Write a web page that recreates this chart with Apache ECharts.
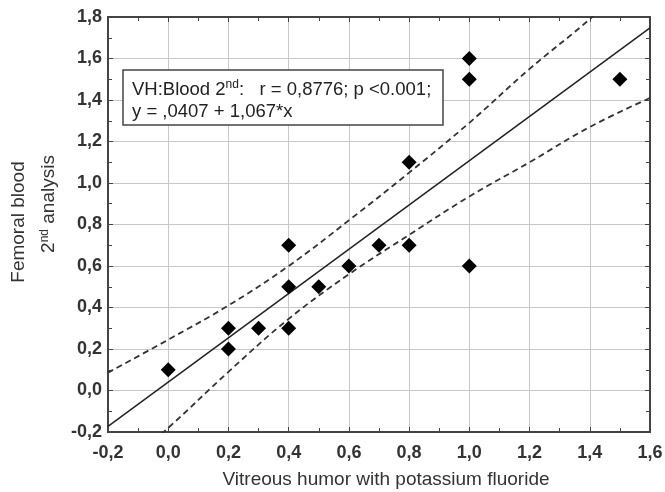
<!DOCTYPE html>
<html><head><meta charset="utf-8">
<script src="https://cdn.jsdelivr.net/npm/echarts@6/dist/echarts.min.js"></script>
<style>html,body{margin:0;padding:0;background:#fff}#c{width:665px;height:492px}</style>
</head><body><div id="c"></div>
<script>
// scatter data
var xVals = [0.0, 0.2, 0.2, 0.3, 0.4, 0.4, 0.4, 0.5, 0.6, 0.7, 0.8, 0.8, 1.0, 1.0, 1.0, 1.5];
var yVals = [0.1, 0.3, 0.2, 0.3, 0.3, 0.5, 0.7, 0.5, 0.6, 0.7, 0.7, 1.1, 0.6, 1.5, 1.6, 1.5];
// regression line end points (y = ,0407 + 1,067*x)
var fitX = [-0.2, 1.6];
var fitY = [-0.173, 1.748];
// confidence band
var bandX = [-0.2, 0.0, 0.2, 0.4, 0.6, 0.8, 1.0, 1.2, 1.4, 1.6];
var upperY = [0.086, 0.245, 0.41, 0.60, 0.82, 1.05, 1.29, 1.55, 1.79, 2.06];
var lowerY = [-0.43, -0.18, 0.09, 0.345, 0.56, 0.75, 0.935, 1.10, 1.27, 1.41];
var xTicks = ['-0,2','0,0','0,2','0,4','0,6','0,8','1,0','1,2','1,4','1,6'];
var yTicks = ['-0,2','0,0','0,2','0,4','0,6','0,8','1,0','1,2','1,4','1,6','1,8'];

function zip(a, b) { return a.map(function (v, i) { return [v, b[i]]; }); }

var FONT = 'Liberation Sans, Arial, sans-serif';
var chart = echarts.init(document.getElementById('c'));
var tickCommon = { show: true, inside: true, length: 5, lineStyle: { color: '#444', width: 1 } };
var minorCommon = { show: true, splitNumber: 2, length: 4, lineStyle: { color: '#444', width: 1 } };
var lineCommon = { show: true, onZero: false, lineStyle: { color: '#444', width: 2 } };
chart.setOption({
  animation: false,
  backgroundColor: '#fff',
  grid: { left: 108, top: 17, right: 15, bottom: 60, outerBoundsMode: 'none', containLabel: false,
    show: true, borderColor: '#444', borderWidth: 2 },
  xAxis: [{
    type: 'value', min: -0.2, max: 1.6, interval: 0.2,
    axisLine: lineCommon,
    axisTick: tickCommon, minorTick: minorCommon,
    splitLine: { show: true, lineStyle: { color: '#c8c8c8', width: 1 } },
    axisLabel: { color: '#333', fontFamily: FONT, fontWeight: 'bold', fontSize: 18, margin: 12,
      formatter: function (v) { return xTicks[Math.round((v + 0.2) / 0.2)]; } }
  }, {
    type: 'value', min: -0.2, max: 1.6, interval: 0.2, position: 'top',
    axisLine: lineCommon,
    axisTick: tickCommon, minorTick: minorCommon, axisLabel: { show: false }, splitLine: { show: false }
  }],
  yAxis: [{
    type: 'value', min: -0.2, max: 1.8, interval: 0.2,
    axisLine: lineCommon,
    axisTick: tickCommon, minorTick: minorCommon,
    splitLine: { show: true, lineStyle: { color: '#c8c8c8', width: 1 } },
    axisLabel: { color: '#333', fontFamily: FONT, fontWeight: 'bold', fontSize: 18, margin: 6,
      formatter: function (v) { return yTicks[Math.round((v + 0.2) / 0.2)]; } }
  }, {
    type: 'value', min: -0.2, max: 1.8, interval: 0.2, position: 'right',
    axisLine: lineCommon,
    axisTick: tickCommon, minorTick: minorCommon, axisLabel: { show: false }, splitLine: { show: false }
  }],
  series: [{
    type: 'line', data: zip(fitX, fitY), symbol: 'none',
    lineStyle: { color: '#222', width: 1.5 }, z: 3
  }, {
    type: 'line', data: zip(bandX, upperY), symbol: 'none', smooth: 0.4, clip: true,
    lineStyle: { color: '#333', width: 1.8, type: [6, 4] }, z: 3
  }, {
    type: 'line', data: zip(bandX, lowerY), symbol: 'none', smooth: 0.4, clip: true,
    lineStyle: { color: '#333', width: 1.8, type: [6, 4] }, z: 3
  }, {
    type: 'scatter', data: zip(xVals, yVals), symbol: 'diamond', symbolSize: 15,
    itemStyle: { color: '#000', opacity: 1 }, z: 5
  }],
  graphic: [{
    type: 'rect', shape: { x: 123, y: 70, width: 320, height: 55 }, z: 100,
    style: { fill: '#fff', stroke: '#444', lineWidth: 1.5 }
  }, {
    type: 'text', x: 132, y: 79, z: 101,
    style: {
      text: '{a|VH:Blood 2}{s|nd}{a|:   r = 0,8776; p <0.001;}\n{a|y = ,0407 + 1,067*x}',
      rich: {
        a: { fontFamily: FONT, fontSize: 18.5, fill: '#222', lineHeight: 22 },
        s: { fontFamily: FONT, fontSize: 12, fill: '#222', lineHeight: 22, verticalAlign: 'top', padding: [0, 0, 8, 0] }
      }
    }
  }, {
    type: 'text', x: 386, y: 480, z: 101,
    style: { text: 'Vitreous humor with potassium fluoride', fontFamily: FONT, fontSize: 19, fill: '#333', align: 'center', verticalAlign: 'middle' }
  }, {
    type: 'text', x: 19, y: 222, rotation: Math.PI / 2, z: 101,
    style: { text: 'Femoral blood', fontFamily: FONT, fontSize: 19, fill: '#333', align: 'center', verticalAlign: 'middle' }
  }, {
    type: 'text', x: 49, y: 204, rotation: Math.PI / 2, z: 101,
    style: {
      text: '{a|2}{s|nd}{a| analysis}', align: 'center', verticalAlign: 'middle',
      rich: {
        a: { fontFamily: FONT, fontSize: 19, fill: '#333' },
        s: { fontFamily: FONT, fontSize: 12, fill: '#333', verticalAlign: 'top', padding: [0, 0, 8, 0] }
      }
    }
  }]
});
</script></body></html>
